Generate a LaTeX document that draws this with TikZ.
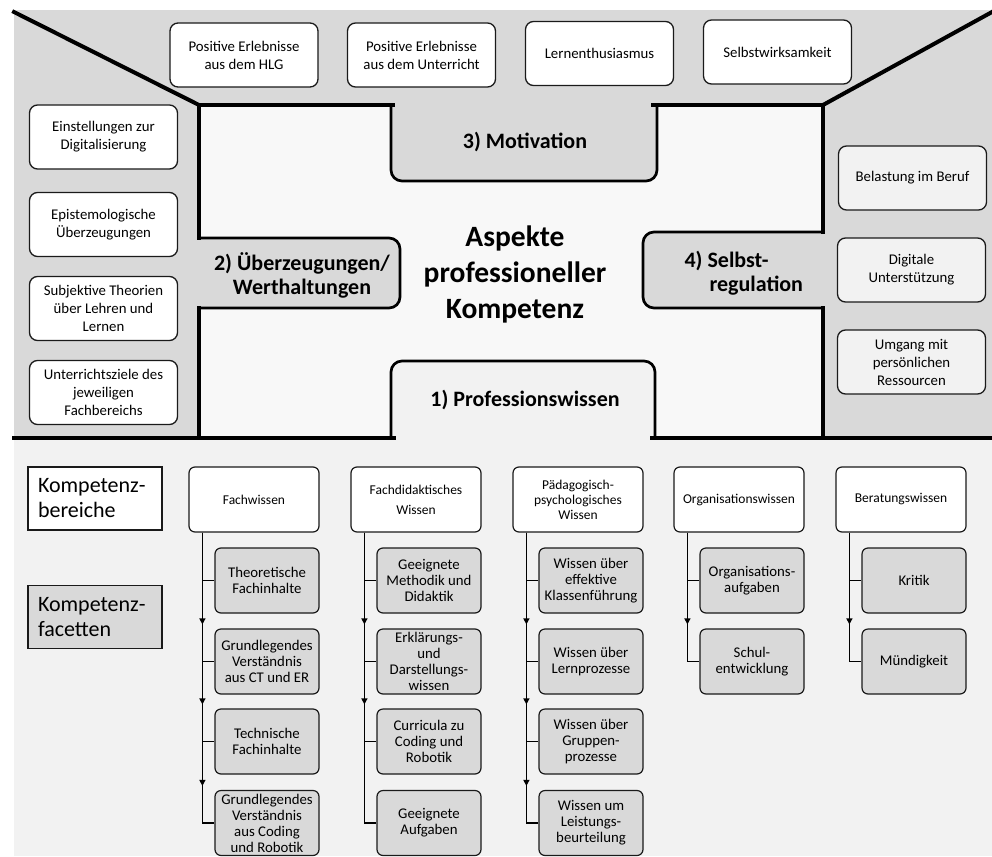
\documentclass[tikz,border=0pt]{standalone}
\usepackage{fontspec}
\setmainfont{Carlito}
\usetikzlibrary{arrows.meta,calc}
\definecolor{gdark}{HTML}{D9D9D9}
\definecolor{glight}{HTML}{F2F2F2}
\definecolor{gcenter}{HTML}{F8F8F8}
\definecolor{edge}{HTML}{1A1A1A}
\begin{document}
\begin{tikzpicture}[x=1pt,y=-1pt,
  thickline/.style={line width=4pt, draw=black, line cap=rect},
  tabline/.style={line width=2.7pt, draw=black, rounded corners=11pt},
  topbox/.style={draw=edge, line width=1.3pt, rounded corners=8pt, fill=white,
    minimum width=148pt, minimum height=64pt, align=center, inner sep=2pt,
    font=\fontsize{14.8}{18}\selectfont},
  rightbox/.style={topbox, fill=glight},
  hdr/.style={draw=edge, line width=1.2pt, rounded corners=6pt, fill=white,
    minimum width=130pt, minimum height=65pt, align=center, inner sep=1pt,
    font=\fontsize{13.5}{15}\selectfont},
  facet/.style={draw=edge, line width=1.2pt, rounded corners=6pt, fill=gdark,
    minimum width=104pt, minimum height=65pt, align=center, inner xsep=1pt, inner ysep=0pt,
    font=\fontsize{14.8}{16}\selectfont},
  lbl/.style={draw=edge, line width=1.2pt, minimum height=63pt, text width=114pt,
    inner xsep=10pt, align=left, font=\fontsize{22}{25}\selectfont},
  tabtext/.style={font=\bfseries\fontsize{22}{24}\selectfont, align=center},
  conn/.style={line width=1.3pt, draw=black},
  arr/.style={conn, -{Triangle[width=6pt,length=6pt]}}]

\useasboundingbox (0,0) rectangle (992,856);
\fill[white] (0,0) rectangle (992,856);

% panels
\fill[gdark] (14,10) rectangle (992,438);
\fill[glight] (14,438) rectangle (992,856);
\fill[gcenter] (199,105) rectangle (823,438);

% tabs clipped to the central field
\begin{scope}
  \clip (199,105) rectangle (823,438);
  \filldraw[fill=gdark, tabline] (391,60) rectangle (657,181);
  \filldraw[fill=gdark, tabline] (150,238) rectangle (400,308);
  \filldraw[fill=gdark, tabline] (643,232) rectangle (880,308);
  \filldraw[fill=glight, tabline] (391,361) rectangle (655,480);
\end{scope}

% thick outlines
\draw[thickline] (14,12) -- (199,105);
\draw[thickline] (823,105) -- (992,12);
\draw[thickline] (393,105) -- (199,105) -- (199,238);
\draw[thickline] (199,308) -- (199,438);
\draw[thickline] (653,105) -- (823,105) -- (823,232);
\draw[thickline] (823,308) -- (823,438);
\draw[thickline] (14,438) -- (394,438);
\draw[thickline] (652,438) -- (990,438);

% tab texts
\node[font=\bfseries\fontsize{29.5}{36}\selectfont, align=center] (title) at (515,274) {Aspekte\\professioneller\\Kompetenz};
\node[tabtext] (mot) at (525,142) {3) Motivation};
\node[tabtext] (ueb) at (302,275) {2) Überzeugungen/\\Werthaltungen};
\node[tabtext, align=left, anchor=west] (sel) at (681,273) {4) Selbst-\\\hspace*{25pt}regulation};
\node[tabtext] (prof) at (525,400) {1) Professionswissen};

% top boxes
\node[topbox] (t1) at (244,55) {Positive Erlebnisse\\aus dem HLG};
\node[topbox] (t2) at (421.5,55) {Positive Erlebnisse\\aus dem Unterricht};
\node[topbox] (t3) at (599.5,53.5) {Lernenthusiasmus};
\node[topbox] (t4) at (777.5,52) {Selbstwirksamkeit};

% left boxes
\node[topbox] (l1) at (103.5,137) {Einstellungen zur\\Digitalisierung};
\node[topbox] (l2) at (103.5,224.5) {Epistemologische\\Überzeugungen};
\node[topbox] (l3) at (103.5,308.5) {Subjektive Theorien\\über Lehren und\\Lernen};
\node[topbox] (l4) at (103.5,392.5) {Unterrichtsziele des\\jeweiligen\\Fachbereichs};

% right boxes
\node[rightbox] (r1) at (912.5,178) {Belastung im Beruf};
\node[rightbox] (r2) at (911.5,270) {Digitale\\Unterstützung};
\node[rightbox] (r3) at (911.5,362) {Umgang mit\\persönlichen\\Ressourcen};

% legend boxes
\node[lbl, fill=white] (kb) at (95,498.5) {Kompetenz-\\bereiche};
\node[lbl, fill=gdark] (kf) at (95,617) {Kompetenz-\\facetten};

% headers
\node[hdr] (h1) at (254,499.5) {Fachwissen};
\node[hdr, font=\fontsize{13.5}{20}\selectfont] (h2) at (416,499.5) {Fachdidaktisches\\Wissen};
\node[hdr] (h3) at (578,499.5) {Pädagogisch-\\psychologisches\\Wissen};
\node[hdr] (h4) at (739,499.5) {Organisationswissen};
\node[hdr] (h5) at (901,499.5) {Beratungswissen};

% facets
\node[facet] (f11) at (267,580.5) {Theoretische\\Fachinhalte};
\node[facet] (f12) at (267,661.5) {Grundlegendes\\Verständnis\\aus CT und ER};
\node[facet] (f13) at (267,741.5) {Technische\\Fachinhalte};
\node[facet] (f14) at (267,823) {Grundlegendes\\Verständnis\\aus Coding\\und Robotik};

\node[facet] (f21) at (429,580.5) {Geeignete\\Methodik und\\Didaktik};
\node[facet] (f22) at (429,661.5) {Erklärungs-\\und\\Darstellungs-\\wissen};
\node[facet] (f23) at (429,741.5) {Curricula zu\\Coding und\\Robotik};
\node[facet] (f24) at (429,823) {Geeignete\\Aufgaben};

\node[facet] (f31) at (591,580.5) {Wissen über\\effektive\\Klassenführung};
\node[facet] (f32) at (591,661.5) {Wissen über\\Lernprozesse};
\node[facet] (f33) at (591,741.5) {Wissen über\\Gruppen-\\prozesse};
\node[facet] (f34) at (591,823) {Wissen um\\Leistungs-\\beurteilung};

\node[facet] (f41) at (752,580.5) {Organisations-\\aufgaben};
\node[facet] (f42) at (752,661.5) {Schul-\\entwicklung};

\node[facet] (f51) at (914,580.5) {Kritik};
\node[facet] (f52) at (914,661.5) {Mündigkeit};

% vertical connector origins
\coordinate (v1) at ($(h1.south west)+(14,0)$);
\coordinate (v2) at ($(h2.south west)+(14,0)$);
\coordinate (v3) at ($(h3.south west)+(14,0)$);
\coordinate (v4) at ($(h4.south west)+(14,0)$);
\coordinate (v5) at ($(h5.south west)+(14,0)$);

% connectors
\foreach \c/\n in {1/4, 2/4, 3/4, 4/2, 5/2} {
  \foreach \k in {1,...,\n} {
    \draw[conn] (v\c) |- (f\c\k.west);
  }
}
% arrowheads
\draw[arr] (v1 |- f11.west) -- ($(v1 |- f12.north)+(0,-4)$);
\draw[arr] (v1 |- f12.west) -- ($(v1 |- f13.north)+(0,-4)$);
\draw[arr] (v1 |- f13.west) -- ($(v1 |- f14.north)+(0,-4)$);
\draw[arr] (v2 |- f21.west) -- ($(v2 |- f22.north)+(0,-4)$);
\draw[arr] (v2 |- f22.west) -- ($(v2 |- f23.north)+(0,-4)$);
\draw[arr] (v3 |- f31.west) -- ($(v3 |- f32.north)+(0,-4)$);
\draw[arr] (v3 |- f32.west) -- ($(v3 |- f33.north)+(0,-4)$);
\draw[arr] (v3 |- f33.west) -- ($(v3 |- f34.north)+(0,-4)$);
\draw[arr] (v4 |- f41.west) -- ($(v4 |- f42.north)+(0,-4)$);
\draw[arr] (v5 |- f51.west) -- ($(v5 |- f52.north)+(0,-4)$);

\end{tikzpicture}
\end{document}
